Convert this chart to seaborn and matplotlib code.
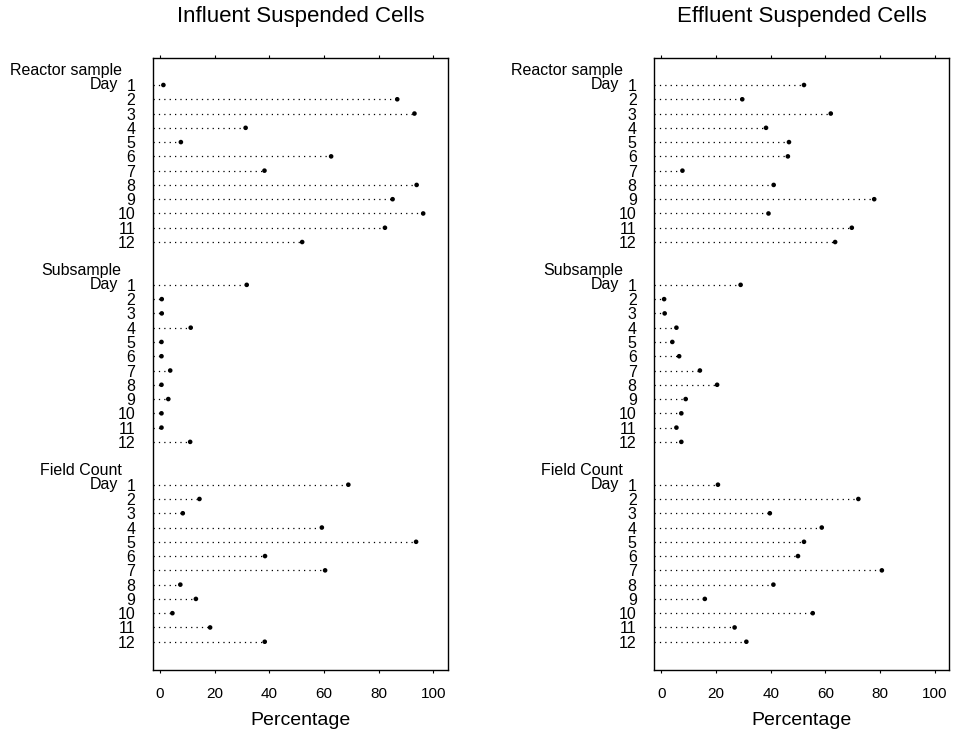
import pandas as pd
import matplotlib
matplotlib.use('Agg')
import matplotlib.pyplot as plt
import seaborn as sns

# values (percent)
groups = ['Reactor sample', 'Subsample', 'Field Count']
days = list(range(1, 13))

influent_reactor = [1.2, 86.8, 93.1, 31.3, 7.6, 62.6, 38.2, 93.9, 85.1, 96.3, 82.3, 52.0]
influent_subsample = [31.7, 0.6, 0.6, 11.2, 0.5, 0.5, 3.7, 0.5, 3.0, 0.5, 0.5, 11.0]
influent_field = [68.9, 14.4, 8.3, 59.2, 93.7, 38.4, 60.4, 7.4, 13.1, 4.5, 18.3, 38.3]

effluent_reactor = [52.2, 29.6, 62.0, 38.3, 46.7, 46.3, 7.7, 41.1, 77.9, 39.2, 69.7, 63.6]
effluent_subsample = [29.0, 1.0, 1.2, 5.5, 4.0, 6.5, 14.1, 20.4, 8.9, 7.3, 5.5, 7.3]
effluent_field = [20.7, 72.1, 39.7, 58.7, 52.2, 50.0, 80.7, 41.0, 15.9, 55.4, 26.8, 31.1]

panels = [
    ('Influent Suspended Cells', [influent_reactor, influent_subsample, influent_field]),
    ('Effluent Suspended Cells', [effluent_reactor, effluent_subsample, effluent_field]),
]

sns.set_style('white')
plt.rcParams['font.family'] = ['Liberation Sans', 'DejaVu Sans']
plt.rcParams.update({'text.color': 'black', 'axes.labelcolor': 'black',
                     'xtick.color': 'black', 'ytick.color': 'black'})

XMIN, XMAX = -2.7, 105.3


def make_frame(series):
    rows = []
    for g, (name, vals) in enumerate(zip(groups, series)):
        for d, v in zip(days, vals):
            rows.append({'group': name, 'day': d, 'value': v, 'pos': g * 14 + d - 1})
    return pd.DataFrame(rows)


def draw_panel(ax, title, series):
    df = make_frame(series)
    ax.hlines(df['pos'], XMIN, df['value'], colors='black',
              linestyles=(0, (1, 3.3)), linewidth=0.9)
    sns.scatterplot(data=df, x='value', y='pos', ax=ax, color='black',
                    s=11, edgecolor='none', legend=False, zorder=3)
    ax.set_xlim(XMIN, XMAX)
    ax.set_ylim(40.98, -1.89)
    ax.set_xticks([0, 20, 40, 60, 80, 100])
    ax.set_yticks(df['pos'])
    ax.set_yticklabels(df['day'].astype(str), fontsize=11.5)
    ax.tick_params(axis='y', length=0, pad=12.5)
    ax.tick_params(axis='x', labelsize=11, length=2.5, pad=10,
                   direction='out', top=True, bottom=True, width=0.8)
    for s in ax.spines.values():
        s.set_visible(True)
        s.set_color('black')
        s.set_linewidth(1.0)
    tr = ax.get_yaxis_transform()
    for g, name in enumerate(groups):
        ax.text(-0.105, g * 14 - 1, name, transform=tr, ha='right',
                va='center', fontsize=11.5)
        ax.text(-0.117, g * 14, 'Day', transform=tr, ha='right',
                va='center', fontsize=11.5)
    ax.set_xlabel('Percentage', fontsize=14, labelpad=8)
    ax.set_ylabel('')
    ax.set_title(title, fontsize=16, pad=26)


fig = plt.figure(figsize=(9.57, 7.40), dpi=100)
ax1 = fig.add_axes([0.1596, 0.0946, 0.3083, 0.827])
ax2 = fig.add_axes([0.6834, 0.0946, 0.3083, 0.827])

for ax, (title, series) in zip([ax1, ax2], panels):
    draw_panel(ax, title, series)

fig.savefig('out.png', dpi=100)
